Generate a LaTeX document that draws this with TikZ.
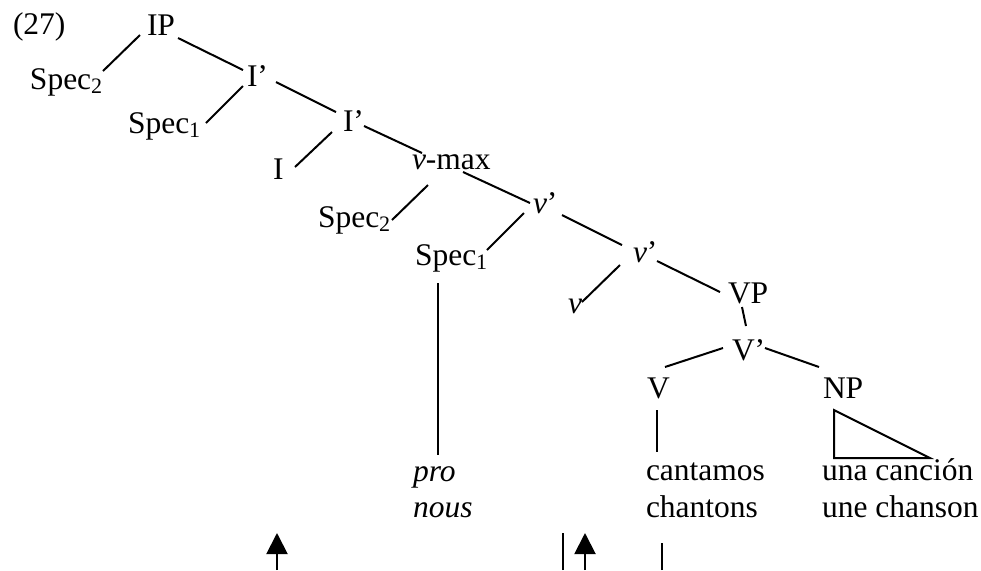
\documentclass[tikz,border=0pt]{standalone}
\usepackage{fontspec}
\setmainfont{Liberation Serif}
\usetikzlibrary{arrows.meta}
\begin{document}
\begin{tikzpicture}[x=0.5pt,y=-0.5pt,
  lab/.style={anchor=base west,inner sep=0pt,outer sep=0pt,font=\fontsize{15.75pt}{18pt}\selectfont},
  edge/.style={line width=1pt},
  up/.style={line width=1pt,-{Triangle[width=10.5pt,length=10.5pt]}}]
\useasboundingbox (0,0) rectangle (981,570);
% labels
\node[lab] (n27) at (13,34) {(27)};
\node[lab] (IP) at (147,35) {IP};
\node[lab] (Sa) at (30,89) {Spec\textsubscript{2}};
\node[lab] (I1) at (247,86) {I’};
\node[lab] (Sb) at (128,133) {Spec\textsubscript{1}};
\node[lab] (I2) at (343,131) {I’};
\node[lab] (I) at (273,179) {I};
\node[lab] (vmax) at (412,169) {\textit{v}-max};
\node[lab] (Sc) at (318,227) {Spec\textsubscript{2}};
\node[lab] (v1) at (533,213) {\textit{v}’};
\node[lab] (Sd) at (415,265) {Spec\textsubscript{1}};
\node[lab] (v2) at (633,262) {\textit{v}’};
\node[lab] (v) at (568,313) {\textit{v}};
\node[lab] (VP) at (728,303) {VP};
\node[lab] (Vb) at (732,360) {V’};
\node[lab] (V) at (647,398) {V};
\node[lab] (NP) at (823,398) {NP};
\node[lab] (pro) at (413,481) {\textit{pro}};
\node[lab] (nous) at (413,517) {\textit{nous}};
\node[lab] (cant) at (646,480) {cantamos};
\node[lab] (chan) at (646,517) {chantons};
\node[lab] (una) at (822,480) {una canción};
\node[lab] (une) at (822,517) {une chanson};
% branches
\draw[edge] ([shift={(-7,0)}]IP.base west) -- ([shift={(73,-18)}]Sa.base west);
\draw[edge] ([shift={(31,3)}]IP.base west) -- ([shift={(-4,-16)}]I1.base west);
\draw[edge] ([shift={(-4,0)}]I1.base west) -- ([shift={(78,-10)}]Sb.base west);
\draw[edge] ([shift={(29,-4)}]I1.base west) -- ([shift={(-7,-19)}]I2.base west);
\draw[edge] ([shift={(-11,1)}]I2.base west) -- ([shift={(22,-12)}]I.base west);
\draw[edge] ([shift={(21,-5)}]I2.base west) -- ([shift={(10,-16)}]vmax.base west);
\draw[edge] ([shift={(16,16)}]vmax.base west) -- ([shift={(74,-7)}]Sc.base west);
\draw[edge] ([shift={(51,3)}]vmax.base west) -- ([shift={(-3,-10)}]v1.base west);
\draw[edge] ([shift={(-9,0)}]v1.base west) -- ([shift={(72,-15)}]Sd.base west);
\draw[edge] ([shift={(29,2)}]v1.base west) -- ([shift={(-11,-17)}]v2.base west);
\draw[edge] ([shift={(-13,3)}]v2.base west) -- ([shift={(14,-11)}]v.base west);
\draw[edge] ([shift={(24,-1)}]v2.base west) -- ([shift={(-8,-11)}]VP.base west);
\draw[edge] ([shift={(14,4)}]VP.base west) -- ([shift={(14,-34)}]Vb.base west);
\draw[edge] ([shift={(-9,-12)}]Vb.base west) -- ([shift={(18,-31)}]V.base west);
\draw[edge] ([shift={(33,-12)}]Vb.base west) -- ([shift={(-4,-31)}]NP.base west);
\draw[edge] ([shift={(10,12)}]V.base west) -- ([shift={(11,-28)}]cant.base west);
\draw[edge] ([shift={(23,18)}]Sd.base west) -- ([shift={(25,-26)}]pro.base west);
\draw[edge] ([shift={(11,12)}]NP.base west) -- ([shift={(11,60)}]NP.base west) -- ([shift={(107,60)}]NP.base west) -- cycle;
% bottom marks
\coordinate (a1b) at (277,570); \coordinate (a1t) at (277,533);
\coordinate (l1b) at (563,570); \coordinate (l1t) at (563,533);
\coordinate (a2b) at (585,570); \coordinate (a2t) at (585,533);
\coordinate (l2b) at (662,570); \coordinate (l2t) at (662,543);
\draw[up] (a1b) -- (a1t);
\draw[edge] (l1b) -- (l1t);
\draw[up] (a2b) -- (a2t);
\draw[edge] (l2b) -- (l2t);
\end{tikzpicture}
\end{document}
